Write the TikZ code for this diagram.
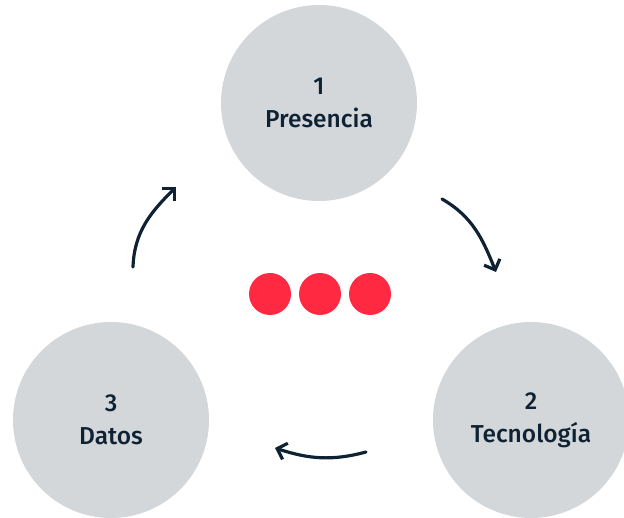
\documentclass[tikz,border=0pt]{standalone}
\usepackage{fontspec}
\setmainfont{Fira Sans Medium}
\usetikzlibrary{arrows.meta}
\definecolor{ink}{HTML}{0E2233}
\definecolor{disc}{HTML}{D3D7DA}
\definecolor{dotred}{HTML}{FF2941}

\begin{document}
\begin{tikzpicture}[x=1pt,y=1pt,
    stage/.style={circle,fill=disc,minimum size=196pt,inner sep=0pt,text=ink,align=center,font=\fontsize{24.5}{33}\selectfont},
    dot/.style={circle,fill=dotred,minimum size=42pt,inner sep=0pt},
    arr/.style={-{Straight Barb[length=8.5pt,width=17pt]},line width=3.2pt,line cap=round,draw=ink}]
    \useasboundingbox (0,0) rectangle (624,517);
    \node[stage] (pres) at (319,414) {1\\Presencia};
    \node[stage] (tec) at (531,97) {2\\Tecnología};
    \node[stage] (datos) at (111,97) {3\\Datos};
    \node[dot] (d1) at (270,223) {};
    \node[dot] (d2) at (320,223) {};
    \node[dot] (d3) at (370,223) {};
    \coordinate (a1s) at (133,250);
    \coordinate (a1e) at (176,330);
    \coordinate (a2s) at (442,318);
    \coordinate (a2e) at (496,245);
    \coordinate (a3s) at (366,65);
    \coordinate (a3e) at (275,69);
    \draw[arr] (a1s) to[out=88,in=-135] (a1e);
    \draw[arr] (a2s) to[out=-30,in=112] (a2e);
    \draw[arr] (a3s) to[out=195,in=-18] (a3e);
  \end{tikzpicture}
\end{document}
